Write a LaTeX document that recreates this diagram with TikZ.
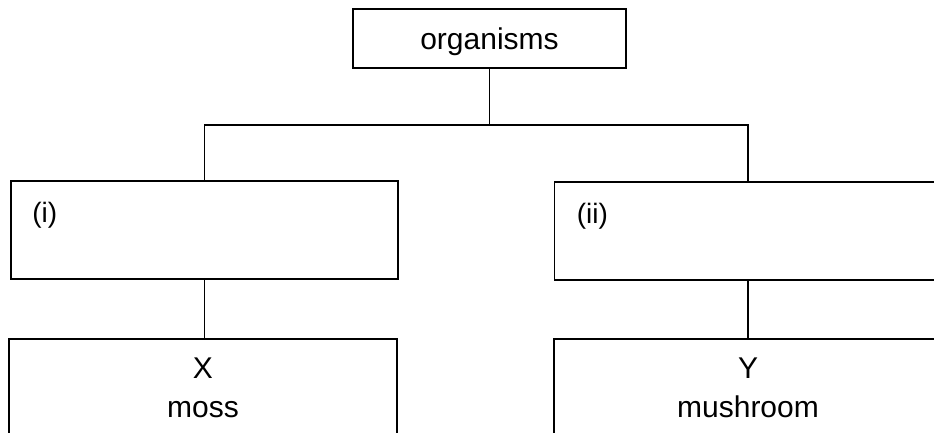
\documentclass[tikz,border=0pt]{standalone}
\usepackage{fontspec}
\setmainfont{Liberation Sans}
\tikzset{
  kbox/.style={draw, line width=1.6pt, rectangle, inner sep=0pt},
  big/.style={font=\fontsize{30}{36}\selectfont, inner sep=0pt},
  small/.style={font=\fontsize{28}{34}\selectfont, inner sep=0pt}
}
\begin{document}
\begin{tikzpicture}[x=1pt, y=-1pt]
          \clip (0,0) rectangle (934,433);
          % top box
          \node[kbox, minimum width=273pt, minimum height=59pt] (org) at (489.5,38.5) {};
          \node[big, anchor=base] (orgtext) at ([yshift=-41pt]org.north) {organisms};
          % two middle boxes
          \node[kbox, minimum width=387pt, minimum height=98pt] (boxi) at (204.5,230) {};
          \node[kbox, minimum width=387pt, minimum height=98pt] (boxii) at (748,231) {};
          \node[small, anchor=base west] (labi) at ([xshift=22pt,yshift=-42pt]boxi.north west) {(i)};
          \node[small, anchor=base west] (labii) at ([xshift=23pt,yshift=-42pt]boxii.north west) {(ii)};
          % two bottom boxes
          \node[kbox, minimum width=388pt, minimum height=150pt, anchor=north] (boxx) at (203,338) {};
          \node[kbox, minimum width=388pt, minimum height=150pt, anchor=north] (boxy) at (748,338) {};
          \node[big, anchor=base] (xname) at ([yshift=-40pt]boxx.north) {X};
          \node[big, anchor=base] (xtext) at ([yshift=-79pt]boxx.north) {moss};
          \node[big, anchor=base] (yname) at ([yshift=-40pt]boxy.north) {Y};
          \node[big, anchor=base] (ytext) at ([yshift=-79pt]boxy.north) {mushroom};
          % lines
          \coordinate (split) at (489.5,125);
          \draw[line width=1.6pt] (org.south) -- (split);
          \draw[line width=1.6pt] (split) -| (boxi.north);
          \draw[line width=1.6pt] (split) -| (boxii.north);
          \draw[line width=1.6pt] (boxi.south) -- (boxi.south |- boxx.north);
          \draw[line width=1.6pt] (boxii.south) -- (boxii.south |- boxy.north);
        \end{tikzpicture}
\end{document}
